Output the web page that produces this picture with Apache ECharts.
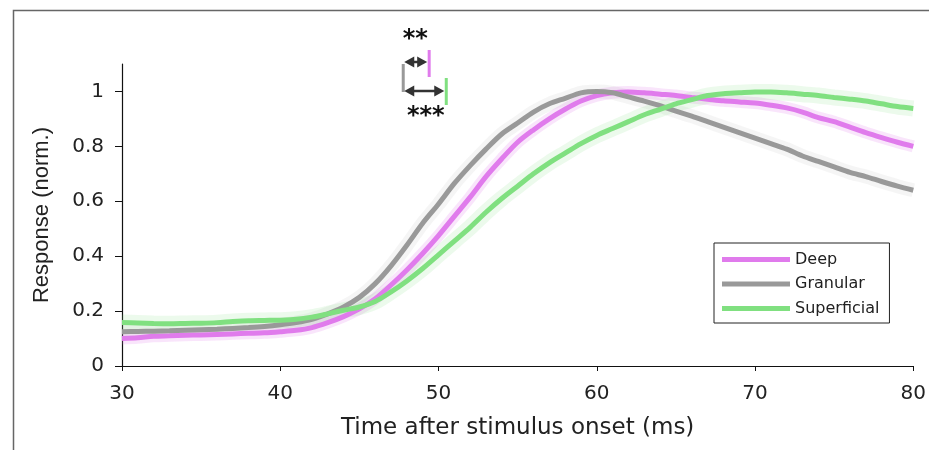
<!DOCTYPE html>
<html>
<head>
<meta charset="utf-8">
<script src="https://cdn.jsdelivr.net/npm/echarts@6/dist/echarts.min.js"></script>
<style>
  html, body { margin: 0; padding: 0; background: #fff; }
  #main { width: 929px; height: 450px; }
</style>
</head>
<body>
<div id="main"></div>
<script>
// time axis (ms)
var times = [30, 31, 32, 33, 34, 35, 36, 37, 38, 39,
             40, 41, 42, 43, 44, 45, 46, 47, 48, 49,
             50, 51, 52, 53, 54, 55, 56, 57, 58, 59,
             60, 61, 62, 63, 64, 65, 66, 67, 68, 69,
             70, 71, 72, 73, 74, 75, 76, 77, 78, 79, 80];

var deep = [0.100, 0.103, 0.108, 0.110, 0.112, 0.113, 0.115, 0.117, 0.119, 0.121,
            0.125, 0.130, 0.140, 0.158, 0.180, 0.208, 0.245, 0.295, 0.350, 0.410,
            0.475, 0.545, 0.615, 0.690, 0.755, 0.815, 0.860, 0.900, 0.935, 0.965,
            0.985, 0.995, 0.998, 0.995, 0.990, 0.985, 0.978, 0.972, 0.966, 0.962,
            0.958, 0.950, 0.940, 0.925, 0.905, 0.890, 0.870, 0.850, 0.832, 0.815, 0.800];

var granular = [0.125, 0.126, 0.127, 0.128, 0.130, 0.132, 0.134, 0.137, 0.140, 0.144,
                0.150, 0.158, 0.170, 0.190, 0.215, 0.250, 0.300, 0.365, 0.440, 0.520,
                0.590, 0.665, 0.730, 0.790, 0.845, 0.885, 0.925, 0.955, 0.975, 0.995,
                1.000, 0.995, 0.980, 0.965, 0.948, 0.928, 0.910, 0.890, 0.870, 0.850,
                0.830, 0.810, 0.790, 0.765, 0.745, 0.725, 0.705, 0.690, 0.672, 0.655, 0.640];

var superficial = [0.158, 0.157, 0.155, 0.154, 0.155, 0.156, 0.158, 0.162, 0.165, 0.166,
                   0.167, 0.170, 0.178, 0.190, 0.203, 0.215, 0.235, 0.270, 0.310, 0.355,
                   0.405, 0.455, 0.505, 0.560, 0.610, 0.655, 0.700, 0.740, 0.775, 0.810,
                   0.840, 0.865, 0.890, 0.915, 0.935, 0.955, 0.970, 0.985, 0.992, 0.995,
                   0.998, 0.998, 0.995, 0.990, 0.985, 0.978, 0.972, 0.965, 0.955, 0.945, 0.938];

// response onset latencies (ms) used for the annotation
var onsetGranular = 47.77;
var onsetDeep = 49.41;
var onsetSuperficial = 50.49;

var xTicks = [30, 40, 50, 60, 70, 80];
var yTicks = [0, 0.2, 0.4, 0.6, 0.8, 1];

var colDeep = '#e07bec';
var colGran = '#999999';
var colSup = '#80e080';
var font = 'DejaVu Sans, sans-serif';
var fontNarrow = 'Liberation Sans, Arial, sans-serif';

function pairs(vals) {
    return times.map(function (t, i) { return [t, vals[i]]; });
}

function bandSeries(name, vals, color, width, op) {
    return {
        type: 'line', name: name, data: pairs(vals), smooth: 0.3,
        showSymbol: false, silent: true, z: 1,
        lineStyle: { color: color, width: width, opacity: op, cap: 'butt' }
    };
}

function lineSeries(name, vals, color, z) {
    return {
        type: 'line', name: name, data: pairs(vals), smooth: 0.3,
        showSymbol: false, z: z, color: color,
        lineStyle: { color: color, width: 5, cap: 'butt' }
    };
}

var chart = echarts.init(document.getElementById('main'), null, { renderer: 'canvas' });

var option = {
    animation: false,
    backgroundColor: '#fff',
    grid: { left: 122, right: 15, top: 64, bottom: 84 },
    legend: {
        data: ['Deep', 'Granular', 'Superficial'],
        orient: 'vertical',
        left: 714, top: 243,
        icon: 'rect', itemWidth: 68, itemHeight: 5, itemGap: 5.5,
        padding: [7, 10, 5, 8],
        borderColor: '#222', borderWidth: 1, borderRadius: 0,
        backgroundColor: '#fff',
        textStyle: { fontFamily: font, fontSize: 16, color: '#222', lineHeight: 19 }
    },
    xAxis: {
        type: 'value', min: 30, max: 80, interval: 10,
        name: 'Time after stimulus onset (ms)', nameLocation: 'middle', nameGap: 51,
        nameTextStyle: { fontFamily: font, fontSize: 23, color: '#222' },
        axisLine: { lineStyle: { color: '#111', width: 1.2 } },
        axisTick: { show: true, length: 5, customValues: xTicks, lineStyle: { color: '#111' } },
        axisLabel: { customValues: xTicks, margin: 18, fontFamily: font, fontSize: 20, color: '#222' },
        splitLine: { show: false }
    },
    yAxis: {
        type: 'value', min: 0, max: 1.1, interval: 0.2,
        name: 'Response (norm.)', nameLocation: 'middle', nameGap: 69, nameRotate: 90,
        nameTextStyle: { fontFamily: fontNarrow, fontSize: 22, color: '#222' },
        axisLine: { show: true, lineStyle: { color: '#111', width: 1.2 } },
        axisTick: { show: true, length: 7, customValues: yTicks, lineStyle: { color: '#111' } },
        axisLabel: { customValues: yTicks, margin: 18, fontFamily: font, fontSize: 20, color: '#222' },
        splitLine: { show: false }
    },
    series: [
        bandSeries('band-d', deep, colDeep, 12, 0.2),
        bandSeries('band-g', granular, colGran, 14, 0.1),
        bandSeries('band-s', superficial, colSup, 16, 0.15),
        lineSeries('Deep', deep, colDeep, 3),
        lineSeries('Granular', granular, colGran, 4),
        lineSeries('Superficial', superficial, colSup, 5)
    ]
};
chart.setOption(option);

// annotation: onset markers and arrows, placed through the x scale
var xg = chart.convertToPixel({ xAxisIndex: 0 }, onsetGranular);
var xd = chart.convertToPixel({ xAxisIndex: 0 }, onsetDeep);
var xs = chart.convertToPixel({ xAxisIndex: 0 }, onsetSuperficial);

function arrow(x1, x2, y) {
    var h = 10, w = 5.5;
    return [
        { type: 'line', shape: { x1: x1 + h - 1, y1: y, x2: x2 - h + 1, y2: y },
          style: { stroke: '#333', lineWidth: 2.5 } },
        { type: 'polygon', shape: { points: [[x1, y], [x1 + h, y - w], [x1 + h, y + w]] },
          style: { fill: '#333' } },
        { type: 'polygon', shape: { points: [[x2, y], [x2 - h, y - w], [x2 - h, y + w]] },
          style: { fill: '#333' } }
    ];
}

var g = [
    { type: 'rect', shape: { x: 13.5, y: 10.5, width: 1000, height: 1000 },
      style: { fill: 'none', stroke: '#666', lineWidth: 1.5 }, silent: true },
    { type: 'rect', shape: { x: xg - 1.5, y: 64, width: 3, height: 28 }, style: { fill: colGran } },
    { type: 'rect', shape: { x: xd - 1.5, y: 50, width: 3, height: 27 }, style: { fill: colDeep } },
    { type: 'rect', shape: { x: xs - 1.5, y: 78, width: 3, height: 27 }, style: { fill: colSup } },
    { type: 'text', style: { text: '**', x: (xg + xd) / 2 - 1, y: 40, align: 'center', verticalAlign: 'middle',
        font: 'bold 24px ' + font, fill: '#111' } },
    { type: 'text', style: { text: '***', x: (xg + xs) / 2 + 1, y: 117, align: 'center', verticalAlign: 'middle',
        font: 'bold 24px ' + font, fill: '#111' } }
].concat(arrow(xg + 1, xd - 2, 62)).concat(arrow(xg + 1, xs - 2, 91));

chart.setOption({ graphic: g });
</script>
</body>
</html>
